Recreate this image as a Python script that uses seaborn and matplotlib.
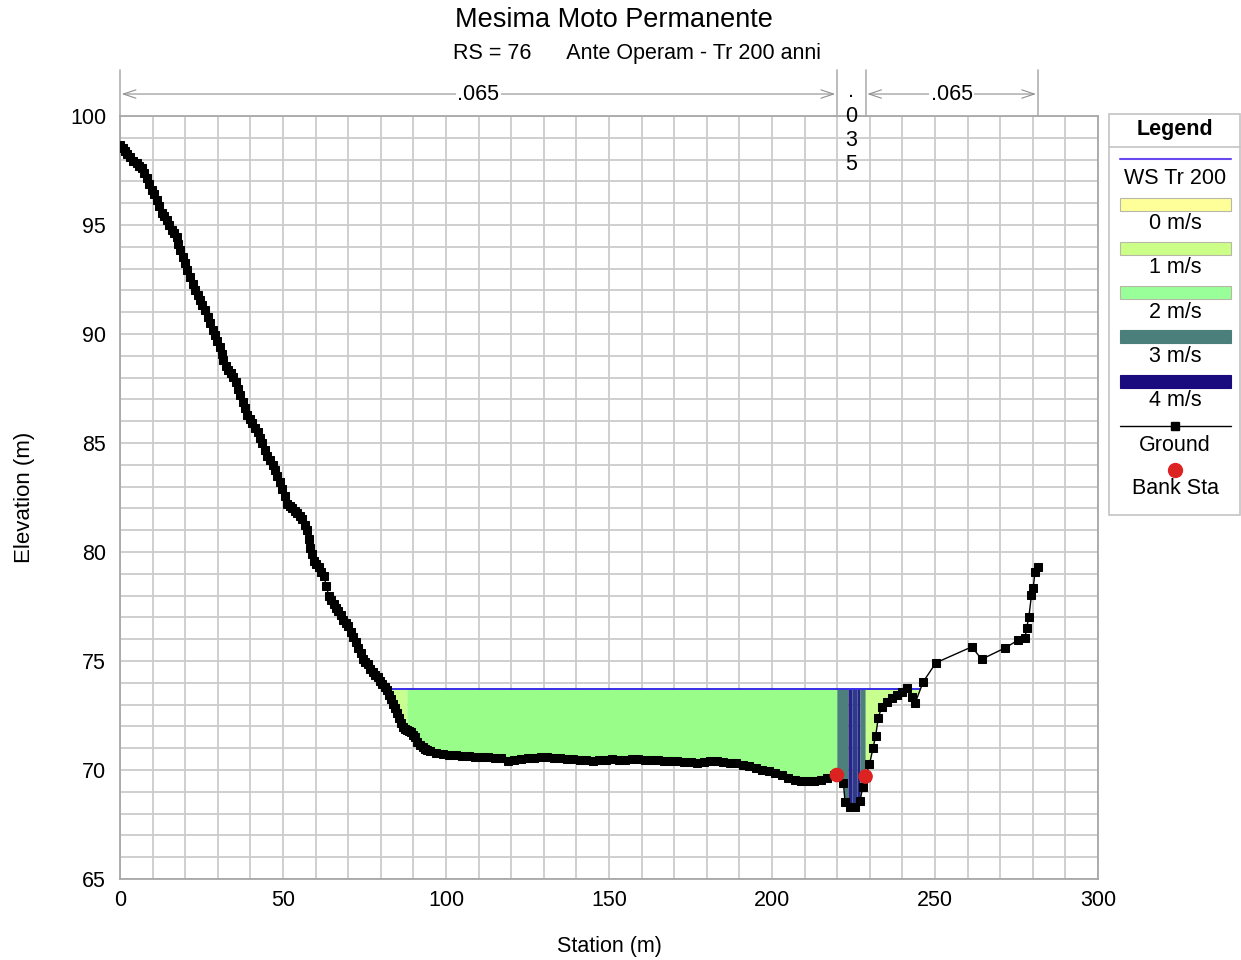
import numpy as np
import matplotlib
matplotlib.use("Agg")
import matplotlib.pyplot as plt
import matplotlib.transforms as mtransforms
from matplotlib.patches import Rectangle
from matplotlib.lines import Line2D
import seaborn as sns

# ---- cross-section data (RS 76) ----
station = [
    0.0, 0.8, 1.5, 2.3, 3.1, 4.1, 5.1, 5.8, 6.6, 7.4, 8.2, 9.0, 9.7, 10.5,
    11.3, 12.0, 12.8, 13.6, 14.3, 15.1, 15.9, 16.7, 17.4, 17.9, 18.4, 19.2,
    19.9, 20.7, 21.5, 22.3, 23.0, 23.8, 24.5, 25.3, 26.1, 26.9, 27.6, 28.4,
    29.1, 29.9, 30.7, 31.2, 31.6, 32.4, 33.1, 33.9, 34.7, 35.5, 36.2, 36.9,
    37.6, 38.4, 39.1, 39.9, 40.6, 41.4, 42.2, 43.0, 43.7, 44.5, 45.2, 46.0,
    46.8, 47.5, 48.3, 49.0, 49.8, 50.5, 51.3, 52.1, 52.9, 53.7, 54.4, 55.2,
    55.9, 56.7, 57.4, 57.9, 58.3, 58.9, 59.5, 60.2, 61.0, 61.8, 62.5, 63.3,
    64.0, 64.8, 65.5, 66.3, 67.0, 67.8, 68.5, 69.3, 70.0, 70.8, 71.5, 72.3,
    73.0, 73.8, 74.5, 75.3, 76.0, 76.8, 77.5, 78.3, 79.0, 79.8, 80.5, 81.3,
    82.0, 82.6, 83.2, 83.8, 84.4, 85.0, 85.6, 86.2, 86.8, 87.4, 88.0, 88.6,
    89.2, 89.9, 90.5, 91.2, 92.0, 92.8, 93.5, 94.3, 95.0,
    97, 99, 101, 103, 105, 107, 109, 111, 113, 115, 117, 119, 121, 123, 125,
    127, 129, 131, 133, 135, 137, 139, 141, 143, 145, 147, 149, 151, 153, 155,
    157, 159, 161, 163, 165, 167, 169, 171, 173, 175, 177, 179, 181, 183, 185,
    187, 189, 191, 193, 195, 197, 199, 201, 203, 205, 207, 209, 211, 213, 215,
    217, 219, 219.9, 221.9, 222.4, 223.9, 225.5, 227.0, 227.8, 228.7, 229.9,
    231.0, 231.8, 232.6, 233.7, 235.2, 236.7, 238.2, 239.8, 241.3, 242.8,
    243.9, 246.4, 250.3, 261.3, 264.3, 271.5, 275.5, 277.6, 278.1, 278.8,
    279.6, 280.1, 280.7, 281.5,
]
elevation = [
    98.67, 98.55, 98.40, 98.27, 98.13, 97.95, 97.83, 97.72, 97.60, 97.40,
    97.14, 96.90, 96.60, 96.40, 96.15, 95.85, 95.55, 95.40, 95.23, 95.00,
    94.77, 94.62, 94.46, 94.15, 93.85, 93.55, 93.25, 92.95, 92.63, 92.30,
    92.00, 91.78, 91.56, 91.35, 91.10, 90.80, 90.50, 90.20, 89.95, 89.70,
    89.42, 89.10, 88.80, 88.55, 88.35, 88.20, 88.04, 87.80, 87.50, 87.20,
    86.90, 86.60, 86.30, 86.10, 85.90, 85.70, 85.50, 85.25, 85.00, 84.70,
    84.40, 84.20, 84.00, 83.75, 83.50, 83.20, 82.90, 82.55, 82.20, 82.10,
    82.00, 81.90, 81.80, 81.65, 81.50, 81.25, 81.00, 80.60, 80.20, 79.90,
    79.60, 79.45, 79.30, 79.10, 78.90, 78.45, 78.00, 77.80, 77.60, 77.45,
    77.30, 77.10, 76.90, 76.75, 76.60, 76.35, 76.10, 75.85, 75.60, 75.35,
    75.10, 74.95, 74.85, 74.65, 74.50, 74.38, 74.25, 74.10, 73.95, 73.80,
    73.65, 73.45, 73.25, 73.05, 72.85, 72.60, 72.40, 72.15, 71.95, 71.90,
    71.85, 71.80, 71.75, 71.60, 71.50, 71.30, 71.15, 71.05, 70.95, 70.90,
    70.85,
    70.80, 70.75, 70.70, 70.70, 70.65, 70.65, 70.60, 70.60, 70.60, 70.55,
    70.55, 70.40, 70.45, 70.50, 70.55, 70.55, 70.60, 70.60, 70.55, 70.55,
    70.50, 70.50, 70.45, 70.45, 70.40, 70.45, 70.45, 70.50, 70.45, 70.45,
    70.50, 70.50, 70.45, 70.45, 70.45, 70.40, 70.40, 70.40, 70.35, 70.35,
    70.30, 70.35, 70.40, 70.40, 70.35, 70.30, 70.30, 70.25, 70.20, 70.10,
    70.00, 69.95, 69.85, 69.75, 69.65, 69.55, 69.50, 69.48, 69.50, 69.55,
    69.65, 69.75, 69.77, 69.40, 68.55, 68.32, 68.32, 68.60, 69.20, 69.70,
    70.26, 71.00, 71.56, 72.40, 72.90, 73.13, 73.30, 73.44, 73.60, 73.75,
    73.37, 73.07, 74.05, 74.92, 75.65, 75.08, 75.60, 75.96, 76.05, 76.50,
    77.03, 78.03, 78.33, 79.10, 79.33,
]

# water surface Tr 200
ws_elev = 73.70
ws_extent = [81.8, 245.5]

# bank stations
bank_station = [219.9, 228.7]
bank_elev = [69.77, 69.70]

# Manning's n regions
n_edges = [0.0, 219.9, 228.7, 281.5]
n_values = [".065", ".035", ".065"]

# velocity distribution slices (edges in station, colour class per slice)
vel_edges = [81.8, 88.0, 219.9, 223.3, 224.5, 226.1, 227.0, 228.7, 245.5]
vel_colors = ["#c9ff8f", "#99fd89", "#4d807c", "#262484", "#2e3a8c",
              "#262484", "#4d807c", "#c9ff8f"]

# legend classes
legend_labels = ["0 m/s", "1 m/s", "2 m/s", "3 m/s", "4 m/s"]
legend_colors = ["#ffff99", "#ccff88", "#99ff99", "#4b7f7c", "#1a0c7e"]

sns.set_style("white")
plt.rcParams["font.family"] = ["Liberation Sans", "DejaVu Sans"]
for key in ("text.color", "axes.labelcolor", "xtick.color", "ytick.color"):
    plt.rcParams[key] = "black"

FS = 15.5
W, H = 1241, 960
fig = plt.figure(figsize=(W / 100, H / 100), dpi=100)
ax = fig.add_axes([120 / W, 1 - 879 / H, (1098 - 120) / W, (879 - 116) / H])

st = np.asarray(station, dtype=float)
el = np.asarray(elevation, dtype=float)

# velocity-coloured wetted area
for (a, b), c in zip(zip(vel_edges[:-1], vel_edges[1:]), vel_colors):
    inner = st[(st > a) & (st < b)]
    xs = np.concatenate([[a], inner, [b]])
    ys = np.interp(xs, st, el)
    ax.fill_between(xs, ys, ws_elev, where=ys <= ws_elev + 1e-9,
                    interpolate=True, color=c, lw=0, zorder=2)

# water surface line
sns.lineplot(x=ws_extent, y=[ws_elev, ws_elev], ax=ax, color="#2a1fe8",
             lw=1.3, zorder=3, legend=False)

# ground profile
sns.lineplot(x=station, y=elevation, ax=ax, sort=False, estimator=None,
             color="black", lw=1.0, marker="s", markersize=6,
             markeredgecolor="black", zorder=4, legend=False)

# bank stations
sns.scatterplot(x=bank_station, y=bank_elev, ax=ax, color="#dd2222",
                s=110, edgecolor="none", zorder=5, legend=False)

# axes styling
ax.set_xlim(0, 300)
ax.set_ylim(65, 100)
ax.set_xticks(np.arange(0, 301, 50))
ax.set_xticks(np.arange(0, 301, 10), minor=True)
ax.set_yticks(np.arange(65, 101, 5))
ax.set_yticks(np.arange(65, 101, 1), minor=True)
ax.grid(True, which="both", color="#cbcbcb", lw=1.3, zorder=0)
ax.set_axisbelow(True)
for sp in ax.spines.values():
    sp.set_color("#a8a8a8")
    sp.set_linewidth(1.3)
ax.tick_params(axis="x", which="both", direction="out", length=5,
               color="#a0a0a0", width=1.0, labelsize=FS, pad=3)
ax.tick_params(axis="y", which="both", direction="out", length=7,
               color="#a0a0a0", width=1.0, labelsize=FS, pad=3)
ax.set_xlabel("Station (m)", fontsize=FS, labelpad=18)
ax.set_ylabel("Elevation (m)", fontsize=FS + 0.5, labelpad=25)

# Manning's n annotations above the section
trans = mtransforms.blended_transform_factory(ax.transData, ax.transAxes)
for e in n_edges:
    ax.add_line(Line2D([e, e], [1.0, 1.06], transform=trans, color="#b0b0b0",
                       lw=1.2, clip_on=False))
for (a, b), n in zip(zip(n_edges[:-1], n_edges[1:]), n_values):
    mid = 0.5 * (a + b)
    if b - a > 30:
        ax.annotate("", xy=(a + 0.5, 1.0288), xytext=(b - 0.5, 1.0288),
                    xycoords=trans, textcoords=trans,
                    arrowprops=dict(arrowstyle="<->,head_length=0.9,head_width=0.3",
                                    color="#909090", lw=0.8,
                                    shrinkA=0, shrinkB=0))
        ax.text(mid, 1.0288, n, transform=trans, ha="center", va="center",
                fontsize=FS, bbox=dict(facecolor="white", edgecolor="none",
                                       pad=1.0), clip_on=False)
    else:
        ax.text(mid, 0.984, "\n".join(n), transform=trans, ha="center",
                va="center", fontsize=FS, linespacing=1.2, clip_on=False,
                zorder=6)

# titles
fig.text(614 / W, 1 - 20 / H, "Mesima Moto Permanente", ha="center",
         va="center", fontsize=19.5)
fig.text(637 / W, 1 - 53 / H, "RS = 76      Ante Operam - Tr 200 anni",
         ha="center", va="center", fontsize=15.5)

# legend panel
def fx(px):
    return px / W


def fy(py):
    return 1 - py / H


fig.add_artist(Rectangle((fx(1109), fy(515)), fx(1240) - fx(1109),
                         fy(114) - fy(515), transform=fig.transFigure,
                         facecolor="white", edgecolor="#c4c4c4", lw=1.2))
fig.text(fx(1175), fy(129), "Legend", ha="center", va="center",
         fontsize=FS, fontweight="bold")
fig.add_artist(Line2D([fx(1109), fx(1240)], [fy(147), fy(147)],
                      transform=fig.transFigure, color="#c4c4c4", lw=1.2))
fig.add_artist(Line2D([fx(1120), fx(1231)], [fy(159), fy(159)],
                      transform=fig.transFigure, color="#6a48f0", lw=1.5))
fig.text(fx(1175), fy(179), "WS Tr 200", ha="center", va="center",
         fontsize=FS)
for i, (lab, col) in enumerate(zip(legend_labels, legend_colors)):
    yc = 204 + i * 44.3
    fig.add_artist(Rectangle((fx(1120), fy(yc + 6.5)), fx(1231) - fx(1120),
                             fy(yc - 6.5) - fy(yc + 6.5),
                             transform=fig.transFigure, facecolor=col,
                             edgecolor="#b8b8a8" if i < 3 else col, lw=0.8))
    fig.text(fx(1175), fy(yc + 19.5), lab, ha="center", va="center",
             fontsize=FS)
fig.add_artist(Line2D([fx(1120), fx(1231)], [fy(426), fy(426)],
                      transform=fig.transFigure, color="black", lw=1.0))
fig.add_artist(Line2D([fx(1175)], [fy(426)], transform=fig.transFigure,
                      color="black", marker="s", markersize=6, lw=0))
fig.text(fx(1175), fy(445), "Ground", ha="center", va="center", fontsize=FS)
fig.add_artist(Line2D([fx(1175)], [fy(470)], transform=fig.transFigure,
                      color="#dd2222", marker="o", markersize=10, lw=0))
fig.text(fx(1175), fy(489), "Bank Sta", ha="center", va="center",
         fontsize=FS)

fig.savefig("out.png", dpi=100)
